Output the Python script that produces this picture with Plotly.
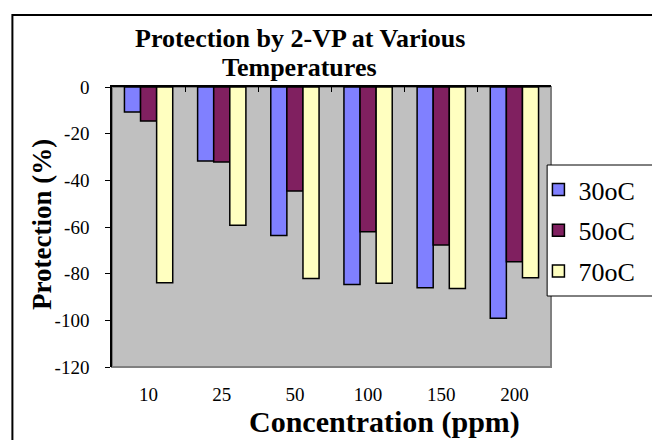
import plotly.graph_objects as go

categories = ["10", "25", "50", "100", "150", "200"]
series_names = ["30oC", "50oC", "70oC"]
vals_30 = [-10.7, -31.7, -63.6, -84.6, -86.0, -99.1]
vals_50 = [-14.6, -32.1, -44.6, -62.0, -67.7, -74.9]
vals_70 = [-83.9, -59.3, -82.1, -84.1, -86.4, -81.7]
colors = ["#8080FF", "#802060", "#FFFFC0"]
y_ticks = [0, -20, -40, -60, -80, -100, -120]
y_tick_text = [str(v) for v in y_ticks]
title_lines = ["Protection by 2-VP at Various", "Temperatures"]
x_title = "Concentration (ppm)"
y_title = "Protection (%)"

FONT = "Liberation Serif"

fig = go.Figure()
for name, vals, col in zip(series_names, [vals_30, vals_50, vals_70], colors):
    fig.add_trace(go.Bar(x=categories, y=vals, name=name,
                         marker=dict(color=col, line=dict(color="black", width=1.5)),
                         legendgroup=name))
# dummy trace for the top (zero-line) category axis with boundary ticks
fig.add_trace(go.Scatter(x=categories, y=[None]*len(categories), xaxis="x2",
                         showlegend=False, hoverinfo="skip", mode="markers"))

L, R, T, B = 112, 86, 87, 73
W, H = 652, 440
pw, ph = W - L - R, H - T - B

def px_x(x):
    return (x - L) / pw

def px_y(y):
    return (H - B - y) / ph

annotations = [
    dict(text="<b>%s</b>" % title_lines[0], x=px_x(306), y=px_y(22), xanchor="center",
         yanchor="top", font=dict(size=26)),
    dict(text="<b>%s</b>" % title_lines[1], x=px_x(306), y=px_y(51), xanchor="center",
         yanchor="top", font=dict(size=26)),
    dict(text="<b>%s</b>" % x_title, x=px_x(394), y=px_y(403), xanchor="center",
         yanchor="top", font=dict(size=30)),
    dict(text="<b>%s</b>" % y_title, x=px_x(22), y=px_y(224), xanchor="left",
         yanchor="middle", textangle=-90, font=dict(size=27)),
]
for a in annotations:
    a.update(xref="paper", yref="paper", showarrow=False)
    a["font"]["family"] = FONT
    a["font"]["color"] = "black"

tick_font = dict(size=19, family=FONT, color="black")

fig.update_layout(
    width=W, height=H,
    margin=dict(l=L, r=R, t=T, b=B, pad=0),
    paper_bgcolor="white",
    plot_bgcolor="#C0C0C0",
    barmode="group",
    bargap=0.34,
    bargroupgap=0,
    font=dict(family=FONT, color="black", size=19),
    showlegend=True,
    legend=dict(x=px_x(553), y=px_y(166), xanchor="left", yanchor="top",
                bgcolor="rgba(0,0,0,0)", borderwidth=0,
                font=dict(size=26, family=FONT, color="black"), tracegroupgap=4,
                traceorder="grouped"),
    xaxis=dict(type="category", showgrid=False, zeroline=False, showline=False,
               ticks="", tickfont=tick_font, ticklabelstandoff=14),
    xaxis2=dict(type="category", overlaying="x", side="top", anchor="y", matches="x",
                showgrid=False, zeroline=False, showline=True, linecolor="black", linewidth=1.5,
                ticks="inside", ticklen=5, tickcolor="black", tickson="boundaries",
                showticklabels=False),
    yaxis=dict(range=[-120, 0], tickvals=y_ticks, ticktext=y_tick_text, showgrid=False,
               zeroline=False, showline=True, linecolor="black", linewidth=1.5,
               ticks="outside", ticklen=5, tickcolor="black", tickfont=tick_font,
               ticklabelstandoff=12),
    annotations=annotations,
    shapes=[
        dict(type="rect", xref="paper", yref="paper", x0=0, x1=1, y0=0, y1=1,
             line=dict(color="#808080", width=2), layer="below"),
        dict(type="rect", xref="paper", yref="paper", x0=px_x(562), x1=px_x(700),
             y0=px_y(296), y1=px_y(165), line=dict(color="black", width=1),
             fillcolor="white", layer="above"),
        dict(type="rect", xref="paper", yref="paper", x0=px_x(9), x1=px_x(700),
             y0=px_y(500), y1=px_y(15), line=dict(color="black", width=2), layer="above"),
    ],
)

fig.write_html("out.html")
